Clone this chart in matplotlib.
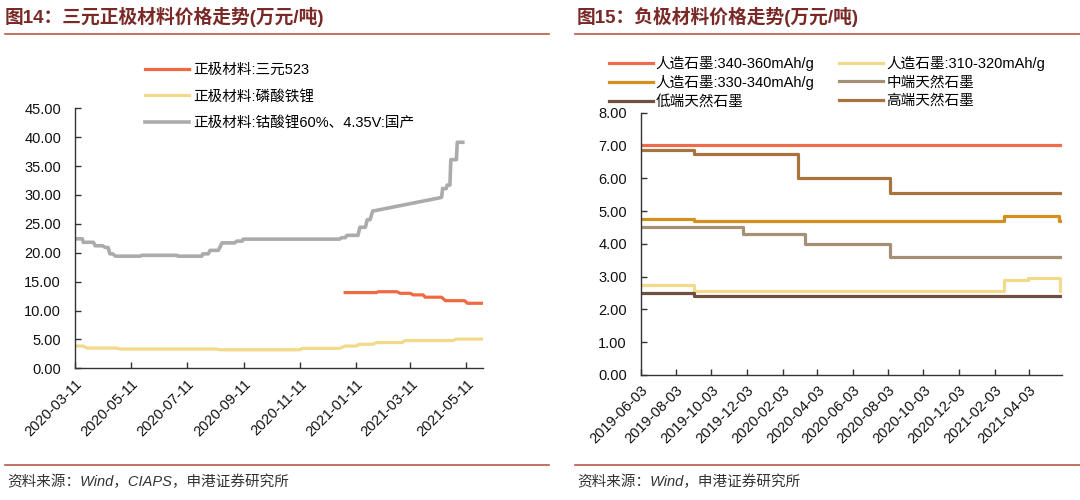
import matplotlib
matplotlib.use("Agg")
import matplotlib.pyplot as plt
import pandas as pd
from matplotlib.lines import Line2D

plt.rcParams['font.family'] = ['Liberation Sans', 'Noto Sans CJK SC']
plt.rcParams['axes.unicode_minus'] = False

# ---- 图14 数据 ----
ncm_dates = ["2020-12-30", "2021-02-02", "2021-02-04", "2021-02-24", "2021-02-28",
             "2021-03-11", "2021-03-14", "2021-03-25", "2021-03-27", "2021-04-14",
             "2021-04-18", "2021-05-09", "2021-05-12", "2021-05-29"]
ncm_vals = [13.1, 13.1, 13.25, 13.25, 12.97, 12.97, 12.7, 12.7, 12.3, 12.3,
            11.7, 11.7, 11.25, 11.25]

lfp_dates = ["2020-03-11", "2020-03-20", "2020-03-24", "2020-04-25", "2020-04-29",
             "2020-08-12", "2020-08-16", "2020-11-11", "2020-11-13", "2020-12-24",
             "2020-12-30", "2021-01-12", "2021-01-13", "2021-01-29", "2021-02-02",
             "2021-03-02", "2021-03-05", "2021-04-26", "2021-04-30", "2021-05-29"]
lfp_vals = [3.85, 3.85, 3.5, 3.5, 3.33, 3.33, 3.2, 3.2, 3.45, 3.45,
            3.85, 3.85, 4.15, 4.15, 4.45, 4.45, 4.8, 4.8, 5.05, 5.05]

lco_dates = ["2020-03-11", "2020-03-19", "2020-03-20", "2020-03-31", "2020-04-02",
             "2020-04-10", "2020-04-13", "2020-04-16", "2020-04-18", "2020-04-21",
             "2020-04-24", "2020-05-21", "2020-05-23", "2020-06-30", "2020-07-01",
             "2020-07-27", "2020-07-28", "2020-08-03", "2020-08-05", "2020-08-14",
             "2020-08-18", "2020-09-01", "2020-09-03", "2020-09-09", "2020-09-10",
             "2020-12-24", "2020-12-26", "2020-12-30", "2021-01-01", "2021-01-13",
             "2021-01-15", "2021-01-21", "2021-01-23", "2021-01-26", "2021-01-29",
             "2021-04-12", "2021-04-14", "2021-04-15", "2021-04-19", "2021-04-20",
             "2021-04-23", "2021-04-24", "2021-04-30", "2021-05-01", "2021-05-07"]
lco_vals = [22.4, 22.4, 21.8, 21.8, 21.2, 21.2, 20.9, 20.9, 19.8, 19.8,
            19.4, 19.4, 19.55, 19.55, 19.4, 19.4, 19.8, 19.8, 20.4, 20.4,
            21.7, 21.7, 22.0, 22.0, 22.35, 22.35, 22.6, 22.6, 23.0, 23.0,
            24.4, 24.4, 25.7, 25.7, 27.2, 29.5, 29.6, 31.1, 31.1, 31.7,
            31.7, 36.1, 36.1, 39.1, 39.1]

left_labels = ["正极材料:三元523", "正极材料:磷酸铁锂", "正极材料:钴酸锂60%、4.35V:国产"]
left_colors = ["#EE6A42", "#F2DA8A", "#ABABAB"]
left_ticks = ["2020-03-11", "2020-05-11", "2020-07-11", "2020-09-11", "2020-11-11",
              "2021-01-11", "2021-03-11", "2021-05-11"]

# ---- 图15 数据 (阶梯变化点) ----
a1_dates = ["2019-06-03", "2021-05-30"]
a1_vals = [7.0, 7.0]
a2_dates = ["2019-06-03", "2019-09-03", "2021-02-19", "2021-04-02", "2021-05-26", "2021-05-30"]
a2_vals = [2.75, 2.55, 2.9, 2.95, 2.55, 2.55]
a3_dates = ["2019-06-03", "2019-09-03", "2021-02-19", "2021-05-24", "2021-05-30"]
a3_vals = [4.75, 4.70, 4.85, 4.70, 4.70]
mid_dates = ["2019-06-03", "2019-11-26", "2020-03-13", "2020-08-06", "2021-05-30"]
mid_vals = [4.5, 4.3, 4.0, 3.6, 3.6]
low_dates = ["2019-06-03", "2019-09-03", "2021-05-30"]
low_vals = [2.5, 2.4, 2.4]
high_dates = ["2019-06-03", "2019-09-03", "2020-02-29", "2020-08-06", "2021-05-30"]
high_vals = [6.85, 6.75, 6.0, 5.55, 5.55]

right_labels = ["人造石墨:340-360mAh/g", "人造石墨:310-320mAh/g", "人造石墨:330-340mAh/g",
                "中端天然石墨", "低端天然石墨", "高端天然石墨"]
right_colors = ["#EE6C4D", "#F2DA8A", "#D4901E", "#A69075", "#6E4F40", "#A8743E"]
right_ticks = ["2019-06-03", "2019-08-03", "2019-10-03", "2019-12-03", "2020-02-03",
               "2020-04-03", "2020-06-03", "2020-08-03", "2020-10-03", "2020-12-03",
               "2021-02-03", "2021-04-03"]

title_color = "#7A2A26"
rule_color = "#B85A45"

fig = plt.figure(figsize=(10.8, 5), dpi=100)


def style_axis(ax, ticks, ymax, ystep):
    for s in ["top", "right"]:
        ax.spines[s].set_visible(False)
    for s in ["left", "bottom"]:
        ax.spines[s].set_color("#333333")
        ax.spines[s].set_linewidth(1.0)
    ax.set_ylim(0, ymax)
    yt = [i * ystep for i in range(int(round(ymax / ystep)) + 1)]
    ax.set_yticks(yt)
    ax.set_yticklabels(["%.2f" % v for v in yt])
    ax.set_xticks(pd.to_datetime(ticks))
    ax.set_xticklabels(ticks, rotation=45, ha="right", rotation_mode="anchor")
    ax.tick_params(direction="in", length=4, width=1, color="#333333",
                   labelsize=10.5, labelcolor="#111111", pad=6)
    ax.tick_params(axis="y", pad=10)


# 左图
ax1 = fig.add_axes([75 / 1080, 1 - 368.3 / 500, (483 - 75) / 1080, (368.3 - 108.2) / 500])
l1, = ax1.plot(pd.to_datetime(ncm_dates), ncm_vals, color=left_colors[0], lw=2.3)
l2, = ax1.plot(pd.to_datetime(lfp_dates), lfp_vals, color=left_colors[1], lw=2.3)
l3, = ax1.plot(pd.to_datetime(lco_dates), lco_vals, color=left_colors[2], lw=2.6)
ax1.set_xlim(pd.Timestamp("2020-03-11"), pd.Timestamp("2021-05-29"))
style_axis(ax1, left_ticks, 45, 5)
fig.legend([l1, l2, l3], left_labels, loc="center left",
           bbox_to_anchor=(132 / 1080, 1 - 96.5 / 500), frameon=False,
           handlelength=3.0, labelspacing=0.85, fontsize=10.5, handletextpad=0.3)

# 右图
ax2 = fig.add_axes([640.7 / 1080, 1 - 375 / 500, (1062 - 640.7) / 1080, (375 - 112.7) / 500])
series = [(a1_dates, a1_vals), (a2_dates, a2_vals), (a3_dates, a3_vals),
          (mid_dates, mid_vals), (low_dates, low_vals), (high_dates, high_vals)]
handles = []
for (d, v), c in zip(series, right_colors):
    h, = ax2.plot(pd.to_datetime(d), v, color=c, lw=2.3, drawstyle="steps-post")
    handles.append(h)
ax2.set_xlim(pd.Timestamp("2019-06-03"), pd.Timestamp("2021-05-30"))
style_axis(ax2, right_ticks, 8, 1)
order = [0, 2, 4, 1, 3, 5]
fig.legend([handles[i] for i in order], [right_labels[i] for i in order],
           loc="center left", bbox_to_anchor=(596 / 1080, 1 - 82.5 / 500), ncol=2,
           frameon=False, handlelength=3.0, labelspacing=0.3, columnspacing=1.7,
           fontsize=10.5, handletextpad=0.2)

# 标题、分隔线、资料来源
fig.text(5 / 1080, 1 - 17 / 500, "图14：三元正极材料价格走势(万元/吨)", fontsize=13.5,
         weight="bold", color=title_color, va="center")
fig.text(577 / 1080, 1 - 17 / 500, "图15：负极材料价格走势(万元/吨)", fontsize=13.5,
         weight="bold", color=title_color, va="center")
for x0, x1 in [(5, 549), (575, 1080)]:
    fig.add_artist(Line2D([x0 / 1080, x1 / 1080], [1 - 34 / 500] * 2,
                          transform=fig.transFigure, color=rule_color, lw=1.2))
    fig.add_artist(Line2D([x0 / 1080, x1 / 1080], [1 - 465 / 500] * 2,
                          transform=fig.transFigure, color=rule_color, lw=1.2))
fig.text(7 / 1080, 1 - 482 / 500, "资料来源：Wind，CIAPS，申港证券研究所", fontsize=10.5,
         style="italic", color="#333333", va="center")
fig.text(577 / 1080, 1 - 482 / 500, "资料来源：Wind，申港证券研究所", fontsize=10.5,
         style="italic", color="#333333", va="center")

fig.savefig("out.png", dpi=100)
